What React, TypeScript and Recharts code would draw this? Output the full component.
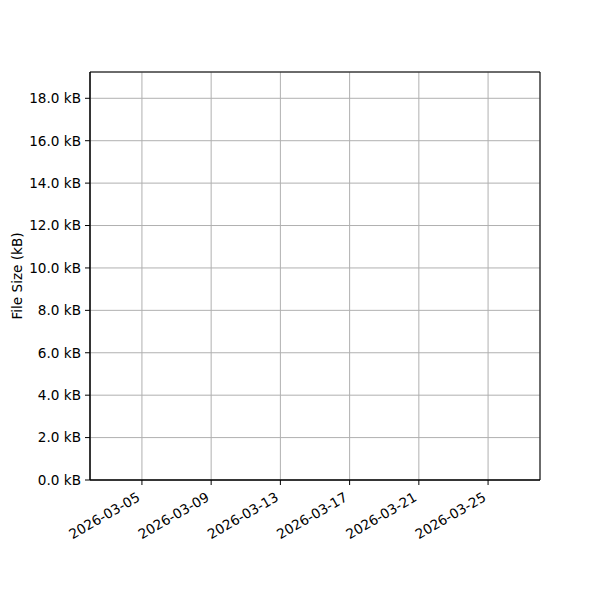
import React from 'react';
import { ComposedChart, Line, XAxis, YAxis, CartesianGrid, ReferenceArea, Label } from 'recharts';

// Tick dates shown on the x axis (no data series present in the reference)
const tickDates = ['2026-03-05', '2026-03-09', '2026-03-13', '2026-03-17', '2026-03-21', '2026-03-25'];
const xStart = '2026-03-02';
const xEnd = '2026-03-28';
// File sizes (kB) — the reference plot shows no data
const sizes: (number | null)[] = [null, null, null, null, null, null];
const yTicks = [0, 2, 4, 6, 8, 10, 12, 14, 16, 18];
const yMax = 19.24;

const toTs = (d: string) => Date.parse(d + 'T00:00:00Z');
const fmtDate = (t: number) => new Date(t).toISOString().slice(0, 10);

const data = tickDates.map((d, i) => ({ t: toTs(d), size: sizes[i] }));
const xTicks = tickDates.map(toTs);

const FONT = 'DejaVu Sans, sans-serif';
const FS = 13.6;

const XTick = (props: any) => {
  const { x, y, payload } = props;
  return (
    <g transform={`translate(${x - 1},${y + 13}) rotate(-30)`}>
      <text x={0} y={0} textAnchor="end" fontFamily={FONT} fontSize={FS} fill="#000">
        {fmtDate(payload.value)}
      </text>
    </g>
  );
};

export default function App() {
  return (
    <div style={{ position: 'absolute', left: 0, top: 0, width: 600, height: 600, background: '#fff' }}>
      <ComposedChart
        width={600}
        height={600}
        data={data}
        margin={{ top: 72, right: 60, left: 0, bottom: 60 }}
      >
        <CartesianGrid stroke="#b0b0b0" strokeWidth={1} />
        <XAxis
          dataKey="t"
          type="number"
          scale="linear"
          domain={[toTs(xStart), toTs(xEnd)]}
          ticks={xTicks}
          tick={<XTick />}
          tickLine={{ stroke: '#000' }}
          axisLine={{ stroke: '#000' }}
          tickSize={5}
          height={60}
          interval={0}
          allowDataOverflow
        />
        <YAxis
          type="number"
          domain={[0, yMax]}
          ticks={yTicks}
          tickFormatter={(v: number) => `${v.toFixed(1)} kB`}
          tick={{ fontFamily: FONT, fontSize: FS, fill: '#000' }}
          tickLine={{ stroke: '#000' }}
          axisLine={{ stroke: '#000' }}
          tickSize={5}
          tickMargin={4}
          width={90}
          interval={0}
          allowDataOverflow
        >
          <Label
            content={() => (
              <text
                x={22}
                y={276}
                transform="rotate(-90, 22, 276)"
                textAnchor="middle"
                fontFamily={FONT}
                fontSize={FS}
                fill="#000"
              >
                File Size (kB)
              </text>
            )}
          />
        </YAxis>
        <ReferenceArea
          x1={toTs(xStart)}
          x2={toTs(xEnd)}
          y1={0}
          y2={yMax}
          fill="none"
          stroke="#000"
          strokeWidth={1}
          ifOverflow="visible"
        />
        <Line dataKey="size" stroke="#1f77b4" dot={false} isAnimationActive={false} />
      </ComposedChart>
    </div>
  );
}
